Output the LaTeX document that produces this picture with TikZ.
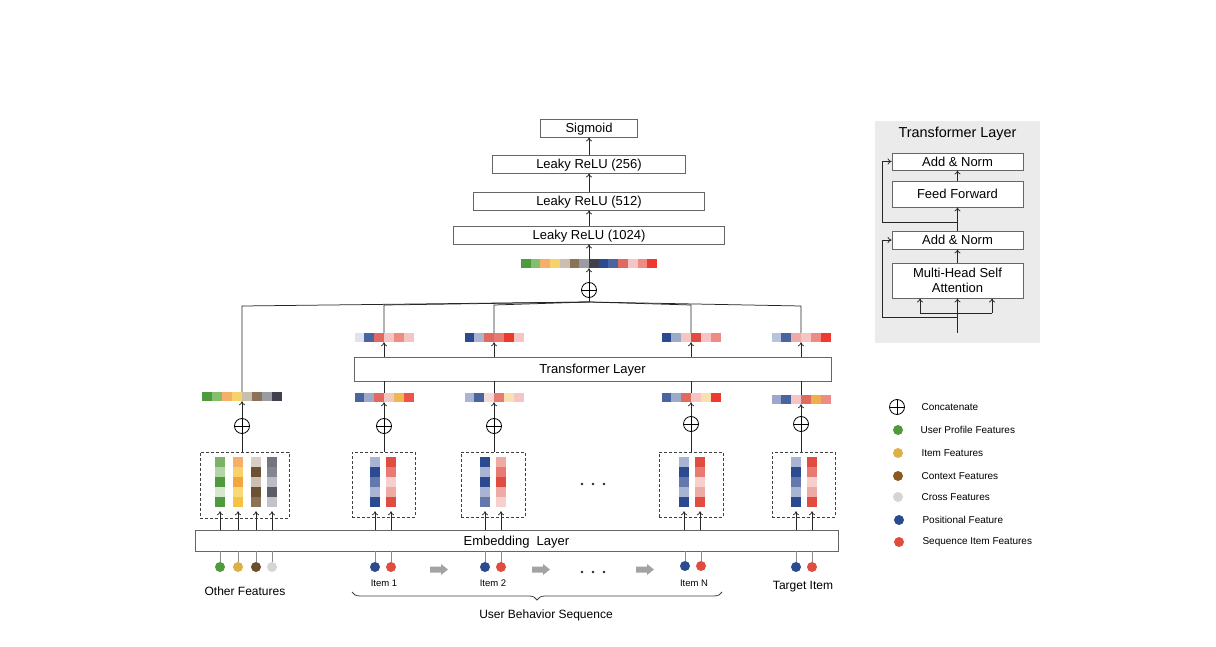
\documentclass[tikz,border=0pt]{standalone}
\usepackage{fontspec}
\setmainfont{Liberation Sans}
\usetikzlibrary{arrows.meta,decorations.pathreplacing,calc}
\definecolor{G1}{HTML}{4E9A3C}\definecolor{G2}{HTML}{84BF6F}\definecolor{G3}{HTML}{B3D6A6}
\definecolor{G4}{HTML}{D5E8CF}\definecolor{G5}{HTML}{79B466}
\definecolor{O1}{HTML}{F4B06B}\definecolor{O2}{HTML}{F6D26A}\definecolor{O3}{HTML}{F2A640}
\definecolor{O4}{HTML}{F5C243}\definecolor{O5}{HTML}{F7D978}
\definecolor{N1}{HTML}{C9BFB0}\definecolor{N2}{HTML}{8B7358}\definecolor{N3}{HTML}{6C5233}
\definecolor{N4}{HTML}{D9CEC6}\definecolor{N5}{HTML}{CCC0B3}
\definecolor{K1}{HTML}{9B9BA3}\definecolor{K2}{HTML}{3F3F4E}\definecolor{K3}{HTML}{74747E}
\definecolor{K4}{HTML}{85858F}\definecolor{K5}{HTML}{BCBCC4}\definecolor{K6}{HTML}{5C5C66}
\definecolor{K7}{HTML}{C2C2CA}
\definecolor{B1}{HTML}{2B4A8F}\definecolor{B2}{HTML}{4A64A0}\definecolor{B3}{HTML}{6378AC}
\definecolor{B4}{HTML}{9BA9CC}\definecolor{B5}{HTML}{A9B4D3}\definecolor{B6}{HTML}{B8C3DD}
\definecolor{B7}{HTML}{DDE3EF}
\definecolor{R1}{HTML}{EE3A2E}\definecolor{R2}{HTML}{E04C40}\definecolor{R3}{HTML}{E06A60}
\definecolor{R4}{HTML}{E77B72}\definecolor{R5}{HTML}{EF8A85}\definecolor{R6}{HTML}{EEAAA5}
\definecolor{R7}{HTML}{F3C5C3}\definecolor{R8}{HTML}{F6D0CC}\definecolor{R9}{HTML}{EE524A}
\definecolor{R10}{HTML}{F6DADA}
\definecolor{Y1}{HTML}{EEB84E}\definecolor{Y2}{HTML}{F8E0B0}\definecolor{Y3}{HTML}{ECB04A}
\definecolor{LG}{HTML}{4F9A3D}\definecolor{LY}{HTML}{DCB045}\definecolor{LB}{HTML}{8B5A22}
\definecolor{LDB}{HTML}{6C4D2E}\definecolor{LC}{HTML}{D5D5D5}
\definecolor{ARW}{HTML}{A3A3A3}\definecolor{INS}{HTML}{EBEBEB}
\newcommand\cellrow[5]{\foreach \cc [count=\ii from 0] in {#5} {\fill[\cc] ({#1+\ii*#3},#2) rectangle ++(#3,#4);}}
\newcommand\cellcol[3]{\foreach \cc [count=\ii from 0] in {#3} {\fill[\cc] (#1,{#2+\ii*10}) rectangle ++(10,10);}}
\begin{document}
\begin{tikzpicture}[x=1pt,y=-1pt,
 boxbase/.style={draw=black!60, line width=0.8pt, fill=white, minimum height=18pt, inner sep=0pt},
 box/.style={boxbase, font=\fontsize{13}{15}\selectfont, text height=9.4pt, text depth=0pt},
 vec/.style={inner sep=0pt, minimum height=9pt},
 oplus/.style={circle, draw=black, line width=0.8pt, minimum size=15pt, inner sep=0pt,
   path picture={\draw[line width=0.8pt] (path picture bounding box.north) -- (path picture bounding box.south) (path picture bounding box.west) -- (path picture bounding box.east);}},
 dbox/.style={draw=black!75, line width=0.8pt, dash pattern=on 3pt off 2pt, inner sep=0pt},
 bar/.style={inner sep=0pt, minimum width=10pt, minimum height=50pt},
 fdot/.style={circle, inner sep=0pt, minimum size=10pt},
 ln/.style={draw=black!85, line width=0.75pt},
 arr/.style={ln, -{To[length=4pt,width=6pt]}},
 gln/.style={draw=black!45, line width=0.9pt},
 lbl/.style={font=\fontsize{9.5}{11}\selectfont},
 big/.style={font=\fontsize{12}{14}\selectfont},
 leg/.style={font=\fontsize{10}{12}\selectfont, anchor=west},
 garrow/.style={fill=ARW},
]
\useasboundingbox[fill=white] (0,0) rectangle (1216,647);

% ---------- MLP tower ----------
\node[box, minimum width=97pt]  (sig)   at (589,128) {Sigmoid};
\node[box, minimum width=193pt] (l256)  at (589,164) {Leaky ReLU (256)};
\node[box, minimum width=231pt] (l512)  at (589,201) {Leaky ReLU (512)};
\node[box, minimum width=271pt] (l1024) at (589,235) {Leaky ReLU (1024)};
\node[vec, minimum width=136pt] (cvec) at (589,263.5) {};
\cellrow{521}{259}{9.714}{9}{G1,G2,O1,O2,N1,N2,K1,K2,B1,B2,R3,R7,R5,R1}
\node[oplus] (cplus) at (589,290) {};
\coordinate (J) at (589,302);
\draw[arr] (l256.north) -- (sig.south);
\draw[arr] (l512.north) -- (l256.south);
\draw[arr] (l1024.north) -- (l512.south);
\draw[arr] (cvec.north) -- (l1024.south);
\draw[arr] (cplus.north) -- (cvec.south);
\draw[ln] (J) -- (cplus.south);

% ---------- Transformer + embedding boxes ----------
\node[box, minimum width=477pt, minimum height=24pt] (tl) at (592.5,369) {Transformer Layer};
\node[box, minimum width=643pt, minimum height=21pt] (emb) at (516.5,540.5) {Embedding\ \ Layer};

% ---------- bus coordinates ----------
\coordinate (tL) at (242,306);
\coordinate (t1) at (384,305);
\coordinate (t2) at (494,305);
\coordinate (t3) at (691,305);
\coordinate (t4) at (801,306);

% ---------- Left column: other features ----------
\node[vec, minimum width=80pt] (vL) at (242,396.5) {};
\cellrow{202}{392}{10}{9}{G1,G2,O1,O2,N1,N2,K1,K2}
\node[oplus] (pL) at (242,426) {};
\node[dbox, minimum width=89pt, minimum height=66pt] (bL) at (244.5,485) {};
\node[bar] (bL1) at (220,482) {}; \cellcol{215}{457}{G5,G3,G1,G4,G1}
\node[bar] (bL2) at (238,482) {}; \cellcol{233}{457}{O1,O2,O3,O5,O4}
\node[bar] (bL3) at (256,482) {}; \cellcol{251}{457}{N4,N3,N5,N3,N2}
\node[bar] (bL4) at (272,482) {}; \cellcol{267}{457}{K3,K4,K5,K6,K7}
\node[fdot, fill=LG]  (dL1) at (220,567) {};
\node[fdot, fill=LY]  (dL2) at (238,567) {};
\node[fdot, fill=LDB] (dL3) at (256,567) {};
\node[fdot, fill=LC]  (dL4) at (272,567) {};
\node[big] (oth) at (245,591) {Other Features};
\draw[ln] (J) -- (tL) -- (vL.north);
\draw[arr] (pL.north) -- (vL.south);
\draw[ln] (pL.south) -- (pL.south |- bL.north);

% ---------- Sequence columns ----------
% column 1
\node[vec, minimum width=59pt] (u1) at (384,337.5) {}; \cellrow{354.5}{333}{9.833}{9}{B7,B2,R3,R7,R5,R7}
\node[vec, minimum width=59pt] (w1) at (384,397.5) {}; \cellrow{354.5}{393}{9.833}{9}{B2,B4,R3,R7,Y1,R9}
\node[oplus] (p1) at (384,426) {};
\node[dbox, minimum width=63pt, minimum height=65pt] (b1) at (383.5,484.5) {};
\node[bar] (b1a) at (375,482) {}; \cellcol{370}{457}{B5,B1,B3,B5,B1}
\node[bar] (b1b) at (391,482) {}; \cellcol{386}{457}{R2,R4,R8,R6,R2}
\node[fdot, fill=B1] (d1a) at (375,567) {};
\node[fdot, fill=R2] (d1b) at (391,567) {};
\node[lbl] (i1) at (384,583) {Item 1};
% column 2
\node[vec, minimum width=59pt] (u2) at (494,337.5) {}; \cellrow{464.5}{333}{9.833}{9}{B1,B5,R3,R4,R1,R7}
\node[vec, minimum width=59pt] (w2) at (494,397.5) {}; \cellrow{464.5}{393}{9.833}{9}{B5,B2,R10,R4,Y2,R7}
\node[oplus] (p2) at (494,426) {};
\node[dbox, minimum width=64pt, minimum height=65pt] (b2) at (493,484.5) {};
\node[bar] (b2a) at (485,482) {}; \cellcol{480}{457}{B1,B5,B1,B5,B3}
\node[bar] (b2b) at (501,482) {}; \cellcol{496}{457}{R6,R4,R2,R6,R8}
\node[fdot, fill=B1] (d2a) at (485,567) {};
\node[fdot, fill=R2] (d2b) at (501,567) {};
\node[lbl] (i2) at (493,583) {Item 2};
% column 3
\node[vec, minimum width=59pt] (u3) at (691,337.5) {}; \cellrow{661.5}{333}{9.833}{9}{B1,B4,R7,R2,R7,R5}
\node[vec, minimum width=59pt] (w3) at (691,397.5) {}; \cellrow{661.5}{393}{9.833}{9}{B2,B4,R3,R7,Y2,R1}
\node[oplus] (p3) at (691,424) {};
\node[dbox, minimum width=64pt, minimum height=65pt] (b3) at (691,484.5) {};
\node[bar] (b3a) at (684,482) {}; \cellcol{679}{457}{B5,B1,B3,B5,B1}
\node[bar] (b3b) at (700,482) {}; \cellcol{695}{457}{R2,R4,R8,R6,R2}
\node[fdot, fill=B1] (d3a) at (685,566) {};
\node[fdot, fill=R2] (d3b) at (701,566) {};
\node[lbl] (i3) at (694,583) {Item N};
% column 4 (target)
\node[vec, minimum width=59pt] (u4) at (801,337.5) {}; \cellrow{771.5}{333}{9.833}{9}{B6,B2,R6,R7,R5,R1}
\node[vec, minimum width=59pt] (w4) at (801,399.5) {}; \cellrow{771.5}{395}{9.833}{9}{B4,B2,R7,R3,Y3,R5}
\node[oplus] (p4) at (801,424) {};
\node[dbox, minimum width=63pt, minimum height=65pt] (b4) at (803.5,484.5) {};
\node[bar] (b4a) at (796,482) {}; \cellcol{791}{457}{B5,B1,B3,B5,B1}
\node[bar] (b4b) at (812,482) {}; \cellcol{807}{457}{R2,R4,R8,R6,R2}
\node[fdot, fill=B1] (d4a) at (796,567) {};
\node[fdot, fill=R2] (d4b) at (812,567) {};
\node[big] (tgt) at (803,587) {Target Item};

\foreach \k in {1,2,3,4}{
  \draw[ln] (J) -- (t\k) -- (u\k.north);
  \draw[arr] (tl.north -| u\k.south) -- (u\k.south);
  \draw[ln] (w\k.north) -- (w\k.north |- tl.south);
  \draw[arr] (p\k.north) -- (p\k.north |- w\k.south);
  \draw[ln] (p\k.south) -- (p\k.south |- b\k.north);
}
% embedding to bars, dots to embedding
\foreach \b/\d in {bL1/dL1,bL2/dL2,bL3/dL3,bL4/dL4,b1a/d1a,b1b/d1b,b2a/d2a,b2b/d2b,b3a/d3a,b3b/d3b,b4a/d4a,b4b/d4b}{
  \draw[arr] (emb.north -| \b.south) -- ([yshift=-4pt]\b.south);
  \draw[gln] (\d.north) -- (\d.north |- emb.south);
}

% ellipses
\foreach \xx in {582,593,604}{\fill[black!85] (\xx,484) circle (1.3); \fill[black!85] (\xx,572) circle (1.3);}
% grey sequence arrows
\foreach \xa in {430,532,636}{
  \fill[garrow] (\xa,566.5) -- (\xa+11,566.5) -- (\xa+11,564) -- (\xa+18,569.5) -- (\xa+11,575) -- (\xa+11,572.5) -- (\xa,572.5) -- cycle;
}
% brace
\coordinate (brL) at (352,592);
\coordinate (brR) at (722,592);
\draw[black!75, line width=0.8pt, decorate, decoration={brace, mirror, amplitude=8pt}] (brL) -- (brR);
\node[big] (ubs) at (546,615) {User Behavior Sequence};

% ---------- Inset: Transformer layer ----------
\fill[INS] (875,121) rectangle (1040,343);
\node[font=\fontsize{14.4}{16}\selectfont] (ttl) at (957.5,134) {Transformer Layer};
\node[box, minimum width=131pt, minimum height=17pt] (an2) at (957.5,161.5) {Add \& Norm};
\node[box, minimum width=131pt, minimum height=26pt] (ff)  at (957.5,194) {Feed Forward};
\node[box, minimum width=131pt, minimum height=18pt] (an1) at (957.5,240) {Add \& Norm};
\node[boxbase, minimum width=131pt, minimum height=35pt, align=center, font=\fontsize{13}{14.5}\selectfont] (mh) at (957.5,280.5) {Multi-Head Self\\Attention};
\coordinate (tin) at (957.5,333);
\coordinate (hbL) at (920,313);
\coordinate (hbR) at (992,313);
\coordinate (rs1) at (957.5,317);
\coordinate (rs2) at (957.5,222);
\coordinate (xl) at (882,300);
\draw[arr] (tin) -- (mh.south);
\draw[ln] (hbL) -- (hbR);
\draw[arr] (hbL) -- (hbL |- mh.south);
\draw[arr] (hbR) -- (hbR |- mh.south);
\draw[arr] (rs1) -- (rs1 -| xl) |- (an1.west);
\draw[arr] (mh.north) -- (an1.south);
\draw[arr] (an1.north) -- (ff.south);
\draw[arr] (rs2) -- (rs2 -| xl) |- (an2.west);
\draw[arr] (ff.north) -- (an2.south);

% ---------- Legend ----------
\node[oplus] (lg0) at (897,407) {};
\node[fdot, fill=LG] (lg1) at (898,430) {};
\node[fdot, fill=LY] (lg2) at (898,453) {};
\node[fdot, fill=LB] (lg3) at (898,476) {};
\node[fdot, fill=LC] (lg4) at (898,497) {};
\node[fdot, fill=B1] (lg5) at (899,520) {};
\node[fdot, fill=R2] (lg6) at (899,542) {};
\node[leg] at (918,407) {Concatenate};
\node[leg] at (917,430) {User Profile Features};
\node[leg] at (918,453) {Item Features};
\node[leg] at (918,476) {Context Features};
\node[leg] at (918,497) {Cross Features};
\node[leg] at (919,520) {Positional Feature};
\node[leg] at (919,542) {Sequence Item Features};
\end{tikzpicture}
\end{document}
